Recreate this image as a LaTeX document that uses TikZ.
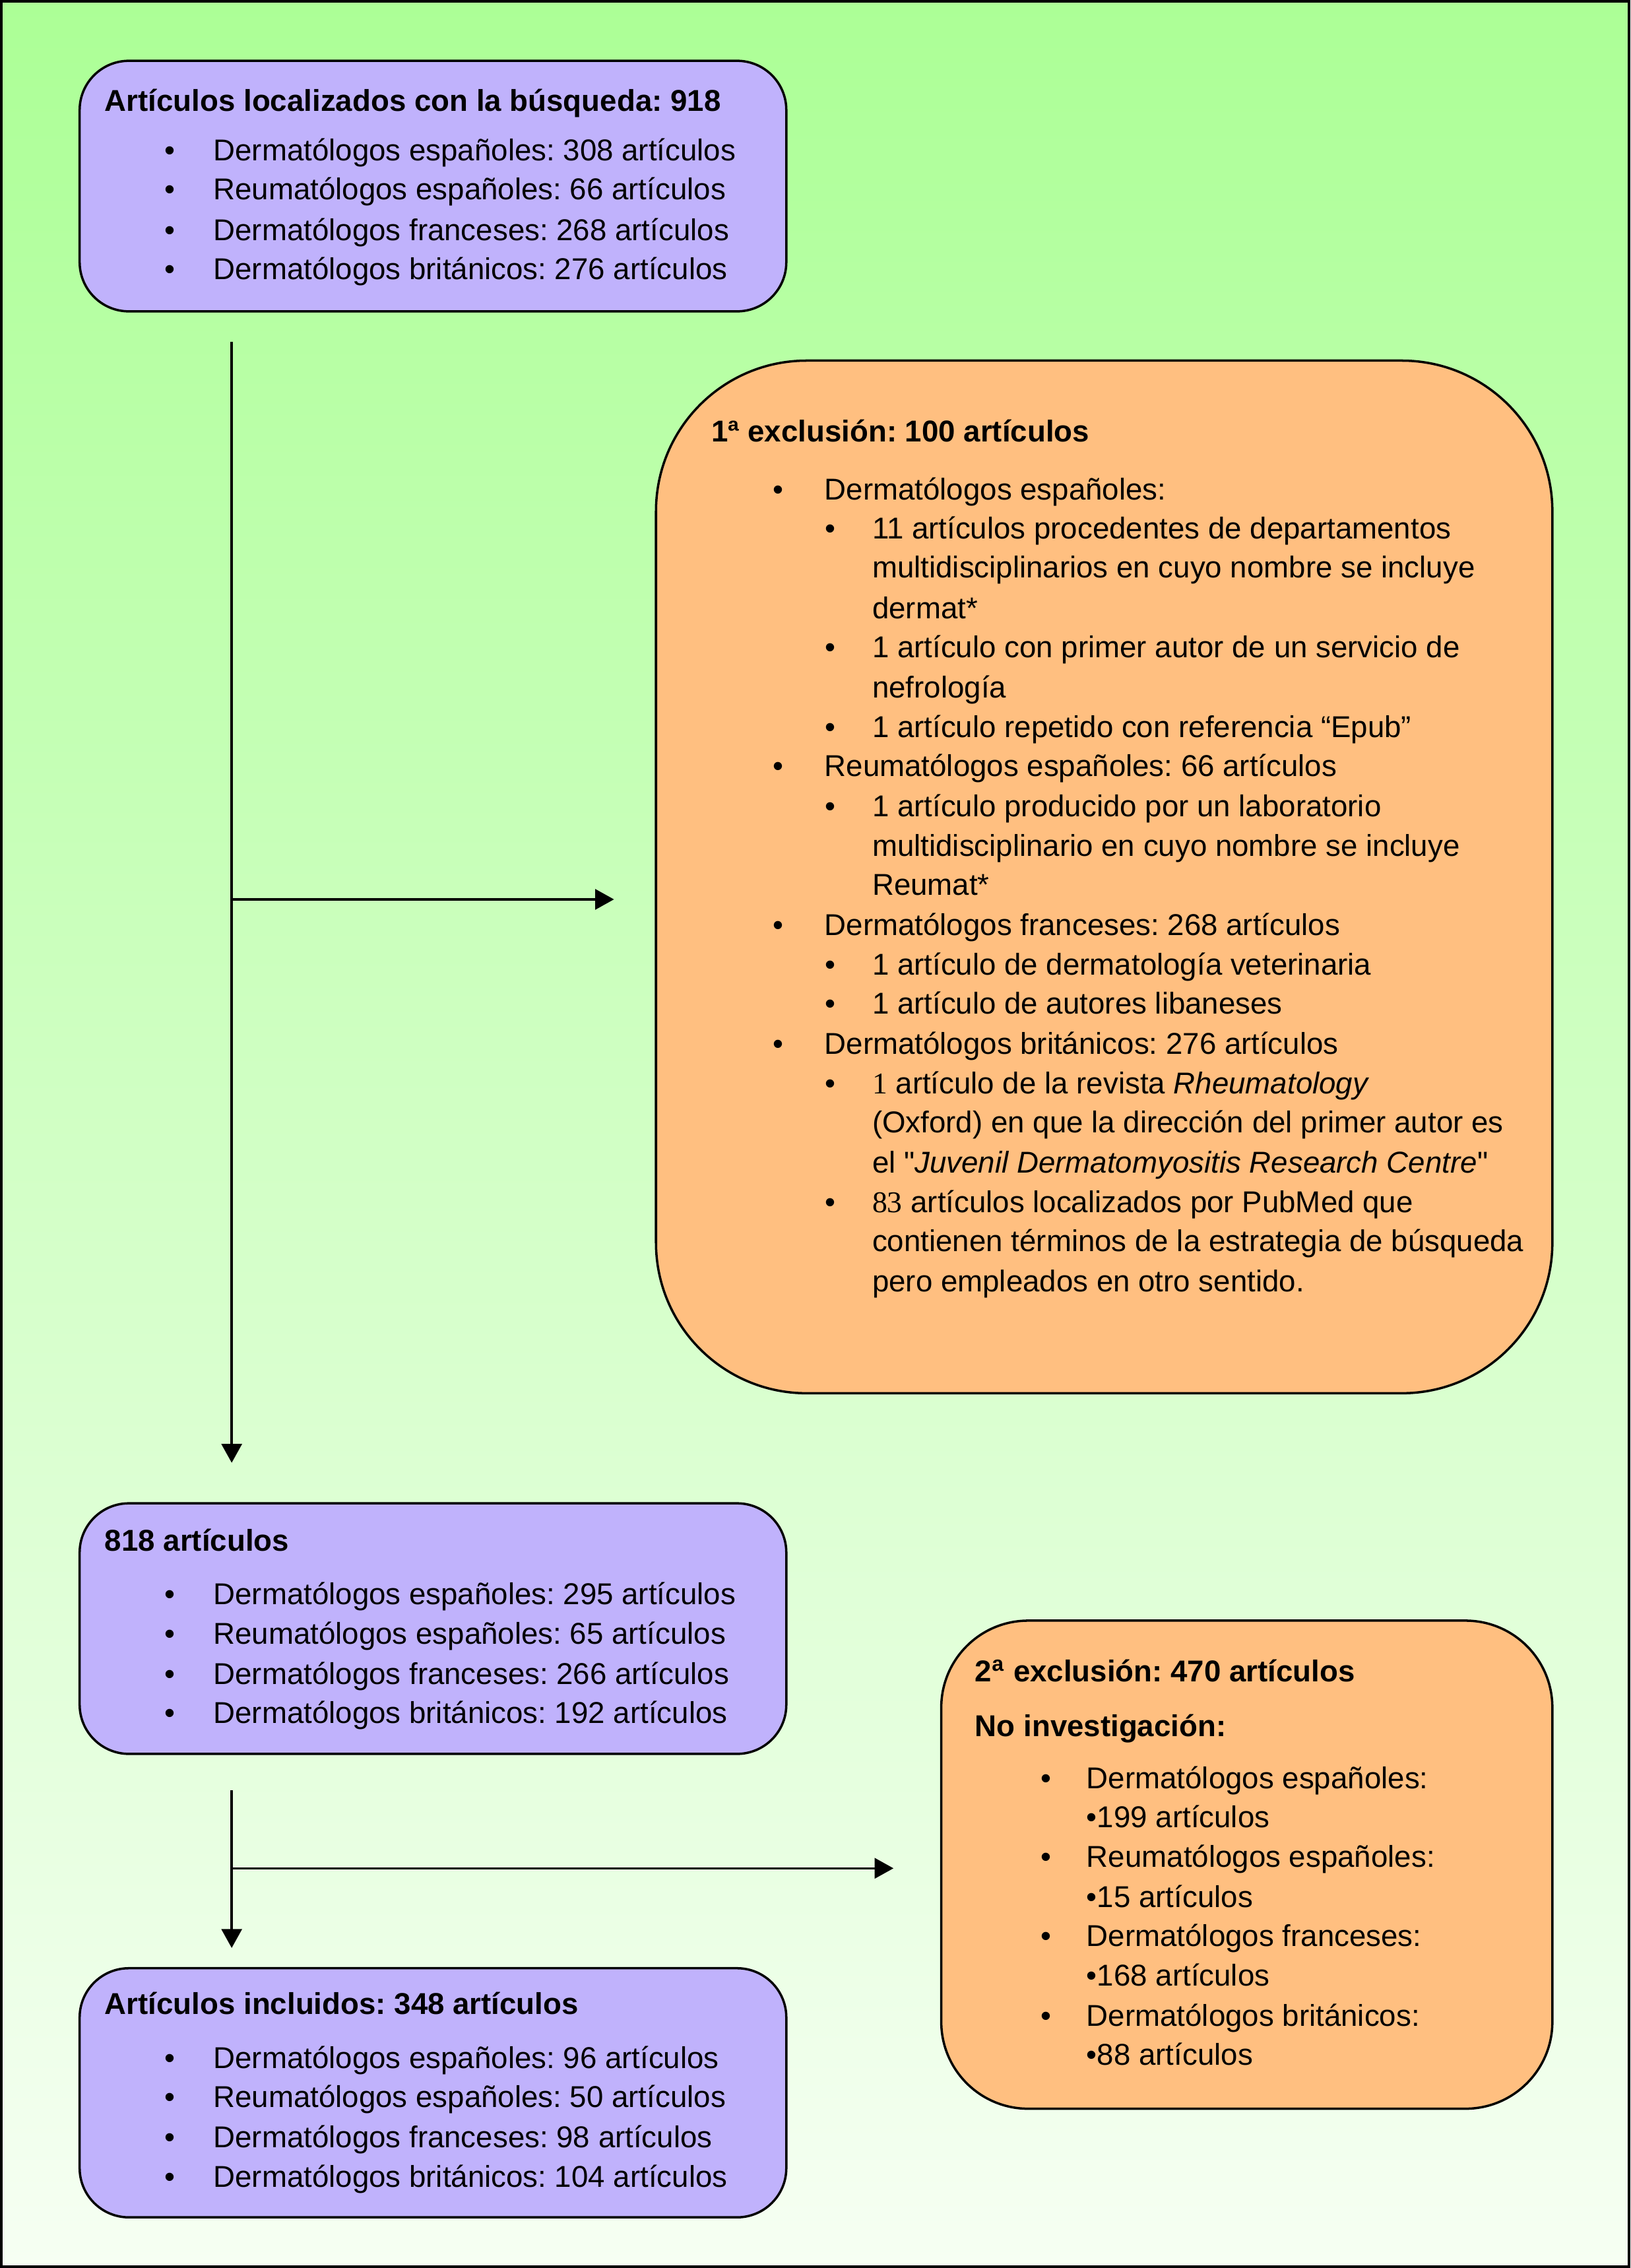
\documentclass[tikz,border=0pt]{standalone}
\usepackage{fontspec}
\setmainfont{Liberation Sans}
\newfontfamily\numfont{Liberation Serif}
\usetikzlibrary{arrows.meta}
\frenchspacing

\definecolor{lila}{RGB}{192,178,252}
\definecolor{naranja}{RGB}{255,191,128}
\definecolor{verde}{RGB}{172,255,150}
\definecolor{verdeclaro}{RGB}{246,255,243}
\newcommand{\bul}[1]{\makebox[#1][l]{\textbullet}}

\begin{document}
\begin{tikzpicture}[
  x=0.5pt, y=-0.5pt,
  lila_box/.style={rectangle, rounded corners=17pt, draw, line width=0.8pt, fill=lila, minimum width=244pt, minimum height=86.5pt, inner sep=0pt},
  naranja_box/.style={rectangle, draw, line width=0.8pt, fill=naranja, inner sep=0pt},
  txt/.style={anchor=base west, inner sep=0pt, font=\fontsize{10.4pt}{12pt}\selectfont},
  tit/.style={txt, font=\fontsize{10.4pt}{12pt}\selectfont\bfseries},
  flecha/.style={line width=0.8pt, -{Triangle[length=6.5pt,width=7pt]}},
]
\useasboundingbox (0,0) rectangle (1126,1566);
\draw [line width=1pt, top color=verde, bottom color=verdeclaro] (1,1) rectangle (1125,1565);

% cajas
\draw (299,128.5) node (loc) [lila_box] {};
\draw (762.5,605.5) node (exc1) [naranja_box, rounded corners=52pt, minimum width=309.5pt, minimum height=356.5pt] {};
\draw (299,1124.5) node (art) [lila_box] {};
\draw (299,1445) node (inc) [lila_box, minimum height=86pt] {};
\draw (861,1287.5) node (exc2) [naranja_box, rounded corners=30pt, minimum width=211pt, minimum height=168.5pt] {};

% articulos localizados
\draw (72,77) node (loc0) [tit] {Artículos localizados con la búsqueda: 918};
\draw (113.4,111) node (loc1) [txt] {\bul{16.8pt}Dermatólogos españoles: 308 artículos};
\draw (113.4,138) node (loc2) [txt] {\bul{16.8pt}Reumatólogos españoles: 66 artículos};
\draw (113.4,166) node (loc3) [txt] {\bul{16.8pt}Dermatólogos franceses: 268 artículos};
\draw (113.4,193) node (loc4) [txt] {\bul{16.8pt}Dermatólogos británicos: 276 artículos};

% 1a exclusion
\draw (491,305) node (exc1_0) [tit] {1ª exclusión: 100 artículos};
\draw (533.4,345) node (exc1_1) [txt] {\bul{17.8pt}Dermatólogos españoles:};
\draw (569.4,372) node (exc1_2) [txt] {\bul{16.3pt}11 artículos procedentes de departamentos};
\draw (602,399) node (exc1_3) [txt] {multidisciplinarios en cuyo nombre se incluye};
\draw (602,427) node (exc1_4) [txt] {dermat*};
\draw (569.4,454) node (exc1_5) [txt] {\bul{16.3pt}1 artículo con primer autor de un servicio de};
\draw (602,482) node (exc1_6) [txt] {nefrología};
\draw (569.4,509) node (exc1_7) [txt] {\bul{16.3pt}1 artículo repetido con referencia “Epub”};
\draw (533.4,536) node (exc1_8) [txt] {\bul{17.8pt}Reumatólogos españoles: 66 artículos};
\draw (569.4,564) node (exc1_9) [txt] {\bul{16.3pt}1 artículo producido por un laboratorio};
\draw (602,591) node (exc1_10) [txt] {multidisciplinario en cuyo nombre se incluye};
\draw (602,618) node (exc1_11) [txt] {Reumat*};
\draw (533.4,646) node (exc1_12) [txt] {\bul{17.8pt}Dermatólogos franceses: 268 artículos};
\draw (569.4,673) node (exc1_13) [txt] {\bul{16.3pt}1 artículo de dermatología veterinaria};
\draw (569.4,700) node (exc1_14) [txt] {\bul{16.3pt}1 artículo de autores libaneses};
\draw (533.4,728) node (exc1_15) [txt] {\bul{17.8pt}Dermatólogos británicos: 276 artículos};
\draw (569.4,755) node (exc1_16) [txt] {\bul{16.3pt}{\numfont 1} artículo de la revista \textit{Rheumatology}};
\draw (602,782) node (exc1_17) [txt] {(Oxford) en que la dirección del primer autor es};
\draw (602,810) node (exc1_18) [txt] {el \textquotedbl\textit{Juvenil Dermatomyositis Research Centre}\textquotedbl};
\draw (569.4,837) node (exc1_19) [txt] {\bul{16.3pt}{\numfont 83} artículos localizados por PubMed que};
\draw (602,864) node (exc1_20) [txt] {contienen términos de la estrategia de búsqueda};
\draw (602,892) node (exc1_21) [txt] {pero empleados en otro sentido.};

% 818 articulos
\draw (72,1071) node (art0) [tit] {818 artículos};
\draw (113.4,1108) node (art1) [txt] {\bul{16.8pt}Dermatólogos españoles: 295 artículos};
\draw (113.4,1135) node (art2) [txt] {\bul{16.8pt}Reumatólogos españoles: 65 artículos};
\draw (113.4,1163) node (art3) [txt] {\bul{16.8pt}Dermatólogos franceses: 266 artículos};
\draw (113.4,1190) node (art4) [txt] {\bul{16.8pt}Dermatólogos británicos: 192 artículos};

% articulos incluidos
\draw (72,1391) node (inc0) [tit] {Artículos incluidos: 348 artículos};
\draw (113.4,1428) node (inc1) [txt] {\bul{16.8pt}Dermatólogos españoles: 96 artículos};
\draw (113.4,1455) node (inc2) [txt] {\bul{16.8pt}Reumatólogos españoles: 50 artículos};
\draw (113.4,1483) node (inc3) [txt] {\bul{16.8pt}Dermatólogos franceses: 98 artículos};
\draw (113.4,1510) node (inc4) [txt] {\bul{16.8pt}Dermatólogos británicos: 104 artículos};

% 2a exclusion
\draw (673,1161) node (exc2_0) [tit] {2\textsuperscript{a} exclusión: 470 artículos};
\draw (673,1199) node (exc2_1) [tit] {No investigación:};
\draw (718.4,1235) node (exc2_2) [txt] {\bul{15.8pt}Dermatólogos españoles:};
\draw (750,1262) node (exc2_3) [txt] {\textbullet 199 artículos};
\draw (718.4,1289) node (exc2_4) [txt] {\bul{15.8pt}Reumatólogos españoles:};
\draw (750,1317) node (exc2_5) [txt] {\textbullet 15 artículos};
\draw (718.4,1344) node (exc2_6) [txt] {\bul{15.8pt}Dermatólogos franceses:};
\draw (750,1371) node (exc2_7) [txt] {\textbullet 168 artículos};
\draw (718.4,1399) node (exc2_8) [txt] {\bul{15.8pt}Dermatólogos británicos:};
\draw (750,1426) node (exc2_9) [txt] {\textbullet 88 artículos};

% flechas
\coordinate (f1a) at (160,236);
\coordinate (f1b) at (160,1010);
\coordinate (f1c) at (160,621);
\coordinate (f1d) at (424,621);
\coordinate (f2a) at (160,1236);
\coordinate (f2b) at (160,1345);
\coordinate (f2c) at (160,1290);
\coordinate (f2d) at (617,1290);
\draw [flecha] (f1a) -- (f1b);
\draw [flecha] (f1c) -- (f1d);
\draw [flecha] (f2a) -- (f2b);
\draw [flecha] (f2c) -- (f2d);
\end{tikzpicture}
\end{document}
